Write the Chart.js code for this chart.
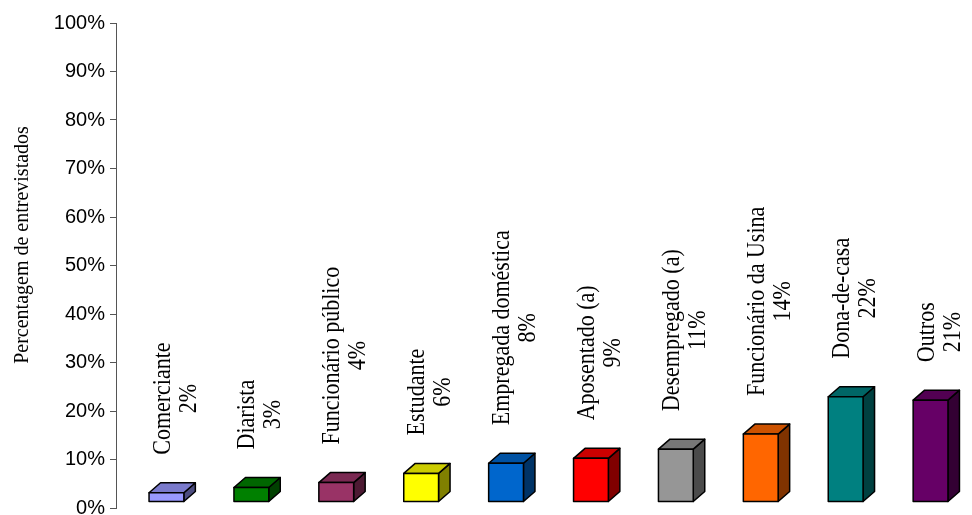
<!DOCTYPE html>
<html>
<head>
<meta charset="utf-8">
<script src="https://cdn.jsdelivr.net/npm/chart.js@4"></script>
<style>
  html, body { margin: 0; padding: 0; background: #fff; overflow: hidden; }
  #wrap { width: 972px; height: 515px; position: relative; overflow: hidden; }
</style>
</head>
<body>
<div id="wrap"><canvas id="chart1"></canvas></div>
<script>
const categories = [
  "Comerciante",
  "Diarista",
  "Funcionário público",
  "Estudante",
  "Empregada doméstica",
  "Aposentado (a)",
  "Desempregado (a)",
  "Funcionário da Usina",
  "Dona-de-casa",
  "Outros",
];
const values = [1.9, 3, 4, 5.9, 8, 9, 10.9, 14, 21.7, 21];
const valueLabels = ["2%", "3%", "4%", "6%", "8%", "9%", "11%", "14%", "22%", "21%"];
const colors = [
  "#9999FF",
  "#008000",
  "#993366",
  "#FFFF00",
  "#0066CC",
  "#FF0000",
  "#969696",
  "#FF6600",
  "#008080",
  "#660066",
];

// darken a hex colour by factor f
function shade(hex, f) {
  const n = parseInt(hex.slice(1), 16);
  const r = Math.round(((n >> 16) & 255) * f);
  const g = Math.round(((n >> 8) & 255) * f);
  const b = Math.round((n & 255) * f);
  return "rgb(" + r + "," + g + "," + b + ")";
}

const DX = 11.5; // depth offset
const DY = -10;
const SHIFT_X = 8;
const SHIFT_Y = -6;

const boxes3d = {
  id: "boxes3d",
  afterDatasetsDraw(chart) {
    const ctx = chart.ctx;
    const meta = chart.getDatasetMeta(0);
    ctx.save();
    ctx.lineWidth = 1.5;
    ctx.strokeStyle = "#000";
    ctx.lineJoin = "round";
    meta.data.forEach((bar, i) => {
      const p = bar.getProps(["x", "y", "base", "width"], true);
      const l = p.x - p.width / 2 + SHIFT_X;
      const r = l + p.width;
      const t = p.y + SHIFT_Y;
      const b = p.base + SHIFT_Y;
      // side
      ctx.beginPath();
      ctx.moveTo(r, b);
      ctx.lineTo(r + DX, b + DY);
      ctx.lineTo(r + DX, t + DY);
      ctx.lineTo(r, t);
      ctx.closePath();
      ctx.fillStyle = shade(colors[i], 0.5);
      ctx.fill();
      ctx.stroke();
      // top
      ctx.beginPath();
      ctx.moveTo(l, t);
      ctx.lineTo(l + DX, t + DY);
      ctx.lineTo(r + DX, t + DY);
      ctx.lineTo(r, t);
      ctx.closePath();
      ctx.fillStyle = shade(colors[i], 0.8);
      ctx.fill();
      ctx.stroke();
      // front
      ctx.fillStyle = colors[i];
      ctx.fillRect(l, t, p.width, b - t);
      ctx.strokeRect(l, t, p.width, b - t);

      // rotated labels above the bar
      ctx.save();
      ctx.fillStyle = "#000";
      ctx.font = "22px 'Liberation Serif', 'Times New Roman', serif";
      const w = Math.max(
        ctx.measureText(categories[i]).width,
        ctx.measureText(valueLabels[i]).width
      );
      const cy = t - 38 - w / 2;
      ctx.textAlign = "center";
      ctx.textBaseline = "middle";
      [categories[i], valueLabels[i]].forEach((txt, k) => {
        ctx.save();
        ctx.translate(l + 14 + k * 26, cy);
        ctx.rotate(-Math.PI / 2);
        ctx.scale(1, 1.12);
        ctx.fillText(txt, 0, 0);
        ctx.restore();
      });
      ctx.restore();
    });

    // y axis title
    ctx.save();
    ctx.fillStyle = "#000";
    ctx.font = "20px 'Liberation Serif', 'Times New Roman', serif";
    ctx.textAlign = "center";
    ctx.textBaseline = "middle";
    ctx.translate(22, 245);
    ctx.rotate(-Math.PI / 2);
    ctx.scale(1, 1.1);
    ctx.fillText("Percentagem de entrevistados", 0, 0);
    ctx.restore();
    ctx.restore();
  },
};

const data1 = {
  labels: categories,
  datasets: [
    {
      label: "Percentagem de entrevistados",
      data: values,
      backgroundColor: "rgba(0,0,0,0)",
      borderWidth: 0,
      categoryPercentage: 1,
      barPercentage: 0.41,
    },
  ],
};

const config1 = {
  type: "bar",
  data: data1,
  options: {
    responsive: false,
    animation: false,
    layout: { padding: { left: 0, top: 23, right: 7, bottom: 22 } },
    plugins: {
      legend: { display: false },
      tooltip: { enabled: false },
    },
    scales: {
      x: { display: false },
      y: {
        min: 0,
        max: 100,
        afterFit(scale) {
          scale.width = 116;
        },
        ticks: {
          stepSize: 10,
          padding: 5,
          color: "#000",
          font: { family: "'Liberation Sans', Arial, sans-serif", size: 20 },
          callback: (v) => v + "%",
        },
        grid: {
          drawOnChartArea: false,
          drawTicks: true,
          tickLength: 6,
          color: "#555",
        },
        border: { display: true, color: "#555", width: 1 },
      },
    },
  },
  plugins: [boxes3d],
};

// canvas is a bit taller than the window so the 0% label gets clipped like the original
const canvas = document.getElementById("chart1");
canvas.width = 972;
canvas.height = 530;
const myChart = new Chart(canvas, config1);
</script>
</body>
</html>
